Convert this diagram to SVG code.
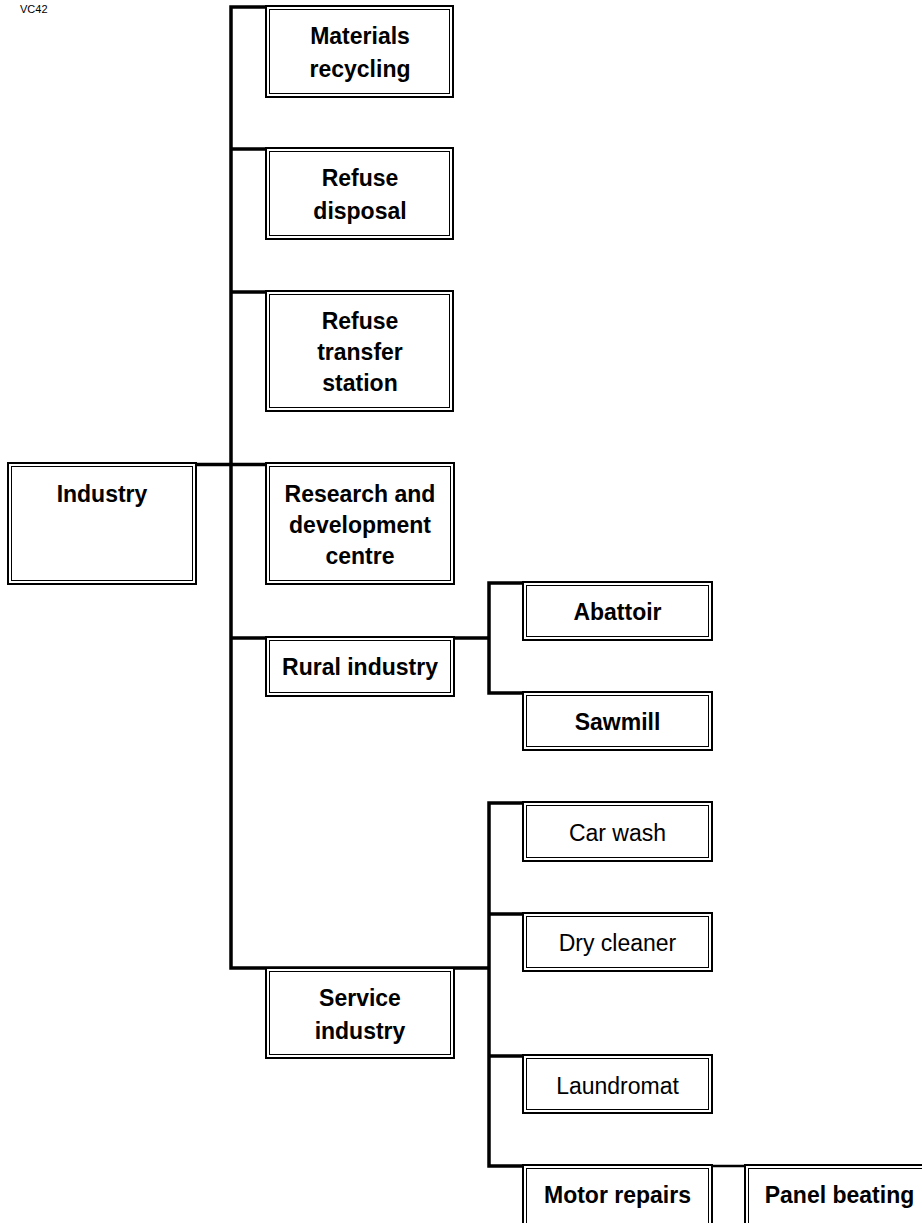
<svg xmlns="http://www.w3.org/2000/svg" width="922" height="1223" viewBox="0 0 922 1223">
<style>
.o{fill:#fff;stroke:#000;stroke-width:2}
.i{fill:none;stroke:#000;stroke-width:1}
.c{fill:none;stroke:#000;stroke-width:3.5;stroke-linecap:square}
.t{font-family:"Liberation Sans",Arial,sans-serif;font-size:23px;text-anchor:middle;fill:#000}
.b{font-weight:bold}
.lbl{font-family:"Liberation Sans",Arial,sans-serif;font-size:11px;fill:#000}
</style>
<rect width="922" height="1223" fill="#fff"/>
<text class="lbl" x="20" y="13">VC42</text>
<g id="connectors">
<path class="c" d="M231,7 V968 M231,7 H266 M231,149 H266 M231,292 H266 M196,464.5 H266 M231,638 H489 M489,583 V693 M489,583 H523 M489,693 H523 M231,968 H489 M489,803 V1166 M489,803 H523 M489,914 H523 M489,1056 H523 M489,1166 H523"/>
<path d="M712,1166 H745" stroke="#000" stroke-width="2.5" fill="none"/>
</g>
<g id="materials"><rect class="o" x="266" y="6" width="187" height="91"/><rect class="i" x="269.5" y="9.5" width="180" height="84"/><text class="t b" x="360" y="44">Materials</text><text class="t b" x="360" y="77">recycling</text></g>
<g id="refuse_disposal"><rect class="o" x="266" y="148" width="187" height="91"/><rect class="i" x="269.5" y="151.5" width="180" height="84"/><text class="t b" x="360" y="186">Refuse</text><text class="t b" x="360" y="219">disposal</text></g>
<g id="refuse_transfer"><rect class="o" x="266" y="291" width="187" height="120"/><rect class="i" x="269.5" y="294.5" width="180" height="113"/><text class="t b" x="360" y="329">Refuse</text><text class="t b" x="360" y="360">transfer</text><text class="t b" x="360" y="391">station</text></g>
<g id="industry"><rect class="o" x="8" y="463" width="188" height="121"/><rect class="i" x="11.5" y="466.5" width="181" height="114"/><text class="t b" x="102" y="502">Industry</text></g>
<g id="research"><rect class="o" x="266" y="463" width="188" height="121"/><rect class="i" x="269.5" y="466.5" width="181" height="114"/><text class="t b" x="360" y="502">Research and</text><text class="t b" x="360" y="533">development</text><text class="t b" x="360" y="564">centre</text></g>
<g id="rural"><rect class="o" x="266" y="637" width="188" height="59"/><rect class="i" x="269.5" y="640.5" width="181" height="52"/><text class="t b" x="360" y="675">Rural industry</text></g>
<g id="abattoir"><rect class="o" x="523" y="582" width="189" height="58"/><rect class="i" x="526.5" y="585.5" width="182" height="51"/><text class="t b" x="617.5" y="620">Abattoir</text></g>
<g id="sawmill"><rect class="o" x="523" y="692" width="189" height="58"/><rect class="i" x="526.5" y="695.5" width="182" height="51"/><text class="t b" x="617.5" y="730">Sawmill</text></g>
<g id="carwash"><rect class="o" x="523" y="802" width="189" height="59"/><rect class="i" x="526.5" y="805.5" width="182" height="52"/><text class="t" x="617.5" y="841">Car wash</text></g>
<g id="drycleaner"><rect class="o" x="523" y="913" width="189" height="58"/><rect class="i" x="526.5" y="916.5" width="182" height="51"/><text class="t" x="617.5" y="951">Dry cleaner</text></g>
<g id="service"><rect class="o" x="266" y="968" width="188" height="90"/><rect class="i" x="269.5" y="971.5" width="181" height="83"/><text class="t b" x="360" y="1006">Service</text><text class="t b" x="360" y="1039">industry</text></g>
<g id="laundromat"><rect class="o" x="523" y="1055" width="189" height="58"/><rect class="i" x="526.5" y="1058.5" width="182" height="51"/><text class="t" x="617.5" y="1094">Laundromat</text></g>
<g id="motor"><rect class="o" x="523" y="1165" width="189" height="70"/><rect class="i" x="526.5" y="1168.5" width="182" height="63"/><text class="t b" x="617.5" y="1203">Motor repairs</text></g>
<g id="panel"><rect class="o" x="745" y="1165" width="189" height="70"/><rect class="i" x="748.5" y="1168.5" width="182" height="63"/><text class="t b" x="839.5" y="1203">Panel beating</text></g>
</svg>
